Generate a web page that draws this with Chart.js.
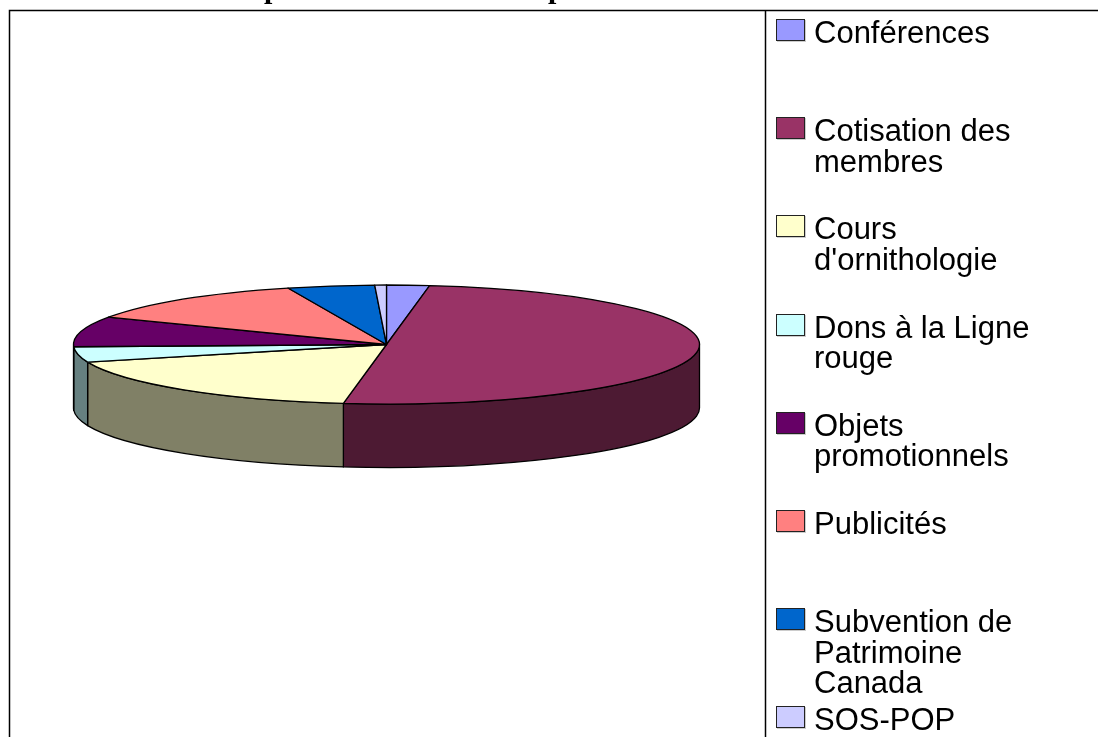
<!DOCTYPE html>
<html lang="fr">
<head>
<meta charset="utf-8">
<title>Revenus</title>
<style>
  html, body { margin: 0; padding: 0; background: #fff; }
  body { width: 1098px; height: 737px; overflow: hidden; position: relative; }
  canvas { position: absolute; left: 0; top: 0; }
  .titlePart { position: absolute; font: bold 30px "Liberation Serif", serif; line-height: 30px; color: #000; }
  .swatch { position: absolute; left: 776px; width: 27px; height: 20px; border: 1px solid #222; box-shadow: 1px 1px 0 #ccc; }
  .entry { position: absolute; left: 814px; width: 225px; font: 31px/30.6px "Liberation Sans", Arial, sans-serif; color: #000; }
</style>
</head>
<body>
<canvas id="pieChart" width="1098" height="737"></canvas>
<script src="https://cdn.jsdelivr.net/npm/chart.js@4/dist/chart.umd.min.js"></script>
<script>
// Chart data (% of total)
const categories = ['Conférences', 'Cotisation des membres', "Cours d'ornithologie", 'Dons à la Ligne rouge',
    'Objets promotionnels', 'Publicités', 'Subvention de Patrimoine Canada', 'SOS-POP'];
const values = [2.2, 50, 18, 4.2, 8.2, 12.3, 4.5, 0.6];
const topColors = ['#9999FF', '#993366', '#FFFFCC', '#CCFFFF', '#660066', '#FF8080', '#0066CC', '#CCCCFF'];
const sideColors = ['#4D4D80', '#4D1A33', '#808066', '#668080', '#330033', '#804040', '#003366', '#666680'];

// The title is cut by the top of the page, only the tails of two letters show
const titleParts = ['p', 'p'];
const titleLeft = [264, 548];

// 3D look: flat ellipse plus a wall below it
const TILT = 59.5 / 313;
const DEPTH = 63.5;

const pie3d = {
    id: 'pie3d',
    beforeDraw(chart) {
        // frame around plot and legend
        const c = chart.ctx;
        c.save();
        c.strokeStyle = '#000';
        c.lineWidth = 1.5;
        c.beginPath();
        c.moveTo(9.5, 737);
        c.lineTo(9.5, 10.5);
        c.lineTo(1098, 10.5);
        c.moveTo(765.5, 10.5);
        c.lineTo(765.5, 737);
        c.stroke();
        c.restore();
    },
    beforeDatasetsDraw(chart) {
        const c = chart.ctx;
        const arcs = chart.getDatasetMeta(0).data;
        c.save();
        c.lineWidth = 1.3;
        c.strokeStyle = '#000';
        c.lineJoin = 'round';

        // walls: only the part of each slice facing the viewer (canvas angles 0..PI)
        arcs.forEach((arc, i) => {
            const p = arc.getProps(['x', 'y', 'startAngle', 'endAngle', 'outerRadius'], true);
            const ry = p.outerRadius * TILT;
            [0, 2 * Math.PI].forEach(shift => {
                const a = Math.max(p.startAngle, shift);
                const b = Math.min(p.endAngle, shift + Math.PI);
                if (b <= a) return;
                c.beginPath();
                c.ellipse(p.x, p.y, p.outerRadius, ry, 0, a, b);
                c.ellipse(p.x, p.y + DEPTH, p.outerRadius, ry, 0, b, a, true);
                c.closePath();
                c.fillStyle = sideColors[i];
                c.fill();
                c.stroke();
            });
        });

        // top face
        arcs.forEach((arc, i) => {
            const p = arc.getProps(['x', 'y', 'startAngle', 'endAngle', 'outerRadius'], true);
            c.beginPath();
            c.moveTo(p.x, p.y);
            c.ellipse(p.x, p.y, p.outerRadius, p.outerRadius * TILT, 0, p.startAngle, p.endAngle);
            c.closePath();
            c.fillStyle = topColors[i];
            c.fill();
            c.stroke();
        });
        c.restore();
        return false; // arcs are drawn above, skip the flat pie
    }
};

new Chart(document.getElementById('pieChart'), {
    type: 'pie',
    data: {
        labels: categories,
        datasets: [{ data: values, backgroundColor: topColors, borderColor: '#000', borderWidth: 1 }]
    },
    options: {
        responsive: false,
        animation: false,
        events: [],
        layout: { padding: { left: 73, right: 398, top: 31, bottom: 79 } },
        plugins: { legend: { display: false }, tooltip: { enabled: false } }
    },
    plugins: [pie3d]
});

// Title pieces
titleParts.forEach((t, i) => {
    const el = document.createElement('div');
    el.className = 'titlePart';
    el.textContent = t;
    el.style.left = titleLeft[i] + 'px';
    el.style.top = '-27px';
    document.body.appendChild(el);
});

// Legend
categories.forEach((name, i) => {
    const top = 19 + i * 98.2;
    const sw = document.createElement('div');
    sw.className = 'swatch';
    sw.style.top = top + 'px';
    sw.style.background = topColors[i];
    document.body.appendChild(sw);

    const el = document.createElement('div');
    el.className = 'entry';
    el.style.top = (top - 1) + 'px';
    el.textContent = name;
    document.body.appendChild(el);
});
</script>
</body>
</html>
